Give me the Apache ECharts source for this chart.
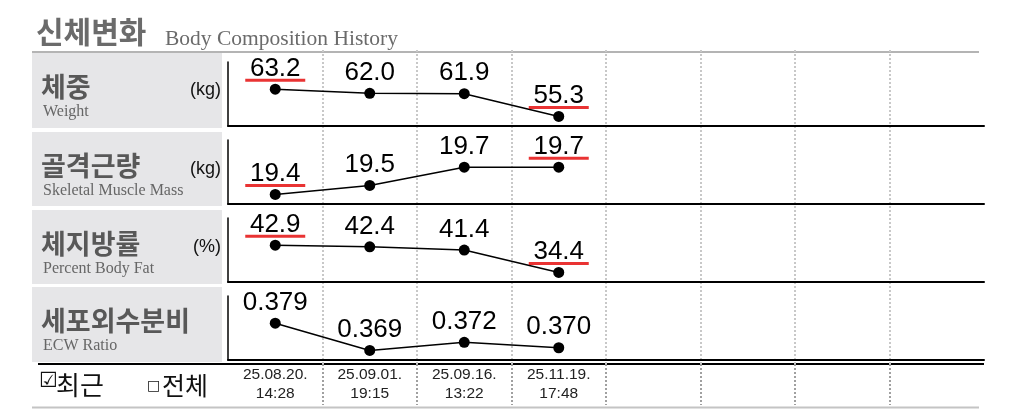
<!DOCTYPE html>
<html><head><meta charset="utf-8">
<script src="https://cdn.jsdelivr.net/npm/echarts@6/dist/echarts.min.js"></script>
<style>html,body{margin:0;padding:0;background:#fff}#c{width:1015px;height:419px}</style>
</head><body><div id="c"></div>
<script>
// ---- data ----
const dateLabels = ['25.08.20.', '25.09.01.', '25.09.16.', '25.11.19.'];
const timeLabels = ['14:28', '19:15', '13:22', '17:48'];
const columnCount = 8;
const weight = [63.2, 62.0, 61.9, 55.3];
const muscle = [19.4, 19.5, 19.7, 19.7];
const fat = [42.9, 42.4, 41.4, 34.4];
const ecw = [0.379, 0.369, 0.372, 0.370];
const weightMarked = [0, 3];
const muscleMarked = [0, 3];
const fatMarked = [0, 3];
const ecwMarked = [];
const rowTitlesKo = ['체중', '골격근량', '체지방률', '세포외수분비'];
const rowTitlesEn = ['Weight', 'Skeletal Muscle Mass', 'Percent Body Fat', 'ECW Ratio'];
const rowUnits = ['(kg)', '(kg)', '(%)', ''];

// ---- build ----
const categories = [];
for (let i = 0; i < columnCount; i++) categories.push(i < dateLabels.length ? dateLabels[i] + '\n' + timeLabels[i] : ' '.repeat(i));
const panels = [
  {data: weight, marked: weightMarked, dec: 1},
  {data: muscle, marked: muscleMarked, dec: 1},
  {data: fat, marked: fatMarked, dec: 1},
  {data: ecw, marked: ecwMarked, dec: 3}
];
const gridTops = [62, 140, 218, 296];
const gridH = 64;
const boxTops = [53, 132, 210, 287];
const boxHs = [75, 74, 74, 75];
const L = 228, R = 31;
const grids = [], xAxes = [], yAxes = [], series = [];
panels.forEach((p, k) => {
  grids.push({left: L, right: R, top: gridTops[k], height: gridH});
  xAxes.push({
    type: 'category', gridIndex: k, data: categories, boundaryGap: true,
    axisLine: {show: true, onZero: false, lineStyle: {color: '#000', width: 2}},
    axisTick: {show: false}, splitLine: {show: false},
    axisLabel: k === 3 ? {show: true, interval: 0, margin: 5, fontSize: 15.5, lineHeight: 19, color: '#222', fontFamily: 'Liberation Sans, Arial'} : {show: false}
  });
  yAxes.push({
    type: 'value', gridIndex: k, scale: true,
    min: v => v.min - (v.max - v.min) * 0.35,
    max: v => v.max + (v.max - v.min) * 1.0,
    axisLine: {show: true, lineStyle: {color: '#000', width: 1.5}},
    axisTick: {show: false}, axisLabel: {show: false}, splitLine: {show: false}
  });
  series.push({
    type: 'line', xAxisIndex: k, yAxisIndex: k, data: p.data,
    symbol: 'circle', symbolSize: 11, z: 5,
    itemStyle: {color: '#000'}, lineStyle: {color: '#000', width: 1.5},
    label: {show: true, position: 'top', distance: 2, fontSize: 26, color: '#000', fontFamily: 'Liberation Sans, Arial',
      formatter: q => Number(q.value).toFixed(p.dec)},
    animation: false, silent: true
  });
  series.push({
    type: 'scatter', xAxisIndex: k, yAxisIndex: k,
    data: p.data.map((v, i) => p.marked.indexOf(i) >= 0 ? v : '-'),
    symbol: 'rect', symbolSize: [60, 3], symbolOffset: [0, -9], z: 6,
    itemStyle: {color: '#e30000'}, animation: false, silent: true
  });
});
// overlay grids for dotted column separators
const overlays = [[50, 364, '#c8c8c8'], [364, 405, '#a0a0a0']];
overlays.forEach((o, j) => {
  const gi = grids.length;
  grids.push({left: L, right: R, top: o[0], height: o[1] - o[0]});
  xAxes.push({type: 'category', gridIndex: gi, data: categories, boundaryGap: true, z: 0,
    axisLine: {show: false}, axisTick: {show: false}, axisLabel: {show: false},
    splitLine: {show: true, interval: 0, showMinLine: false, showMaxLine: false, lineStyle: {color: o[2], width: 2, type: [2, 2]}}});
  yAxes.push({type: 'value', gridIndex: gi, show: false, min: 0, max: 1});
});

const graphic = [];
boxTops.forEach((t, k) => {
  graphic.push({type: 'rect', z: -10, shape: {x: 32, y: t, width: 190, height: boxHs[k]}, style: {fill: '#e6e6e8'}});
  graphic.push({type: 'text', z: 10, x: 41, y: t + 34, style: {text: rowTitlesKo[k], fontSize: 27, fontWeight: 'bold', fill: '#585858', fontFamily: 'Noto Sans CJK KR', verticalAlign: 'middle'}});
  graphic.push({type: 'text', z: 10, x: 43, y: t + 59, style: {text: rowTitlesEn[k], fontSize: 16, fill: '#666', fontFamily: 'Liberation Serif, Times New Roman', verticalAlign: 'middle'}});
  if (rowUnits[k]) graphic.push({type: 'text', z: 10, x: 221, y: t + 37, style: {text: rowUnits[k], fontSize: 18, fill: '#111', fontFamily: 'Liberation Sans, Arial', align: 'right', verticalAlign: 'middle'}});
});
graphic.push({type: 'text', x: 36, y: 32, style: {text: '신체변화', fontSize: 30, fontWeight: 'bold', fill: '#6b6b6b', fontFamily: 'Noto Sans CJK KR', verticalAlign: 'middle'}});
graphic.push({type: 'text', x: 165, y: 39, style: {text: 'Body Composition History', fontSize: 21.5, fill: '#6b6b6b', fontFamily: 'Liberation Serif, Times New Roman', verticalAlign: 'middle'}});
graphic.push({type: 'line', shape: {x1: 32, y1: 52, x2: 979, y2: 52}, style: {stroke: '#b4b4b4', lineWidth: 2}});
graphic.push({type: 'line', shape: {x1: 32, y1: 407.5, x2: 979, y2: 407.5}, style: {stroke: '#c4c4c4', lineWidth: 2}});
graphic.push({type: 'line', shape: {x1: 38, y1: 364, x2: 984, y2: 364}, style: {stroke: '#000', lineWidth: 2}});
graphic.push({type: 'text', x: 39, y: 382, style: {text: '☑', fontSize: 21, fill: '#111', fontFamily: 'DejaVu Sans', verticalAlign: 'middle'}});
graphic.push({type: 'text', x: 56, y: 385, style: {text: '최근', fontSize: 26, fill: '#111', fontFamily: 'Noto Sans CJK KR', verticalAlign: 'middle'}});
graphic.push({type: 'text', x: 147, y: 386, style: {text: '□', fontSize: 14, fill: '#111', fontFamily: 'DejaVu Sans', verticalAlign: 'middle'}});
graphic.push({type: 'text', x: 162, y: 385, style: {text: '전체', fontSize: 25, fill: '#111', fontFamily: 'Noto Sans CJK KR', verticalAlign: 'middle'}});

const chart = echarts.init(document.getElementById('c'), null, {renderer: 'canvas'});
chart.setOption({animation: false, grid: grids, xAxis: xAxes, yAxis: yAxes, series: series, graphic: graphic});
</script></body></html>
